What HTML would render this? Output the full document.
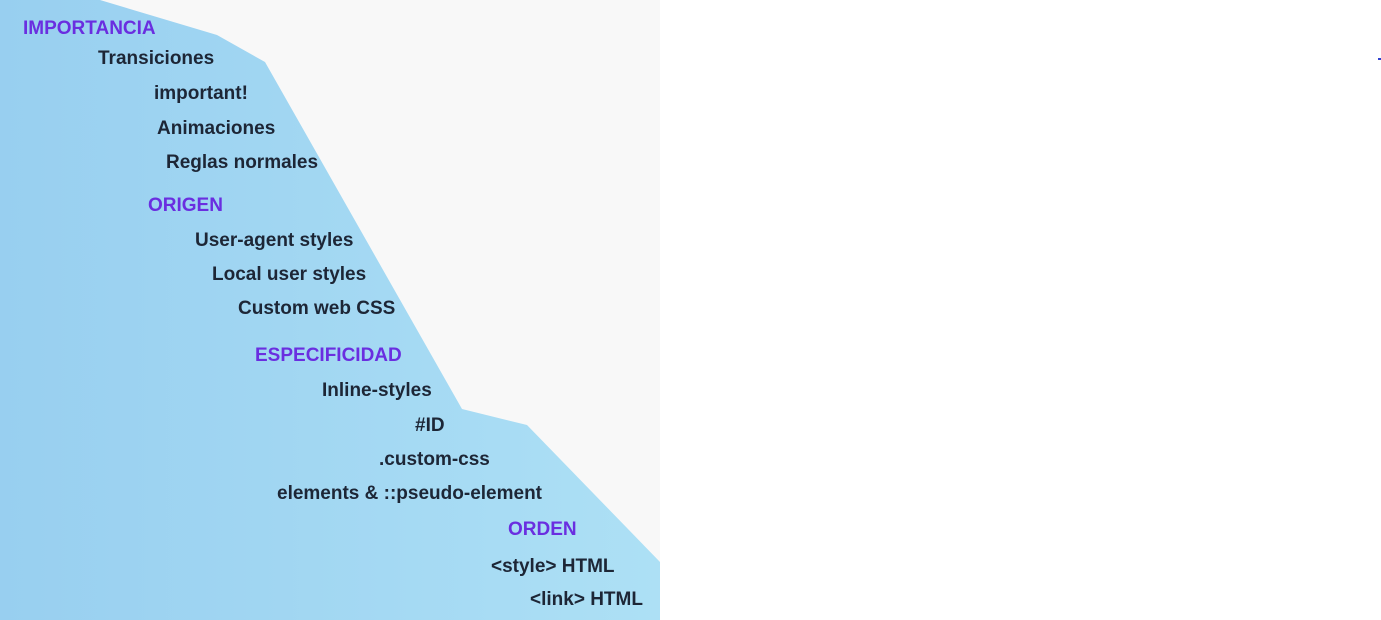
<!DOCTYPE html>
<html><head><meta charset="utf-8"><style>
body{margin:0;width:1381px;height:620px;background:#fff;position:relative;overflow:hidden;font-family:"Liberation Sans",sans-serif;}
#panel{position:absolute;left:0;top:0;width:660px;height:620px;background:#f8f8f8;}
.t{position:absolute;font-weight:bold;font-size:19px;color:#1d2636;white-space:nowrap;line-height:20px;}
.h{color:#6a2ee0;}
</style></head><body>
<div id="panel">
<svg width="660" height="620" style="position:absolute;left:0;top:0">
<defs><linearGradient id="g" x1="0" x2="1" y1="0" y2="0"><stop offset="0" stop-color="#98cff0"/><stop offset="1" stop-color="#ade0f5"/></linearGradient></defs>
<polygon points="0,0 100,0 217,35 265,62 462,409 527,425 660,562 660,620 0,620" fill="url(#g)"/>
</svg>
<div class="t h" style="left:23px;top:19px">IMPORTANCIA</div>
<div class="t" style="left:98px;top:49px">Transiciones</div>
<div class="t" style="left:154px;top:84px">important!</div>
<div class="t" style="left:157px;top:119px">Animaciones</div>
<div class="t" style="left:166px;top:153px">Reglas normales</div>
<div class="t h" style="left:148px;top:196px">ORIGEN</div>
<div class="t" style="left:195px;top:231px">User-agent styles</div>
<div class="t" style="left:212px;top:265px">Local user styles</div>
<div class="t" style="left:238px;top:299px">Custom web CSS</div>
<div class="t h" style="left:255px;top:346px">ESPECIFICIDAD</div>
<div class="t" style="left:322px;top:381px">Inline-styles</div>
<div class="t" style="left:415px;top:416px">#ID</div>
<div class="t" style="left:379px;top:450px">.custom-css</div>
<div class="t" style="left:277px;top:484px">elements &amp; ::pseudo-element</div>
<div class="t h" style="left:508px;top:520px">ORDEN</div>
<div class="t" style="left:491px;top:557px">&lt;style&gt; HTML</div>
<div class="t" style="left:530px;top:590px">&lt;link&gt; HTML</div>
</div>
<div style="position:absolute;left:1378px;top:58px;width:3px;height:2px;background:#3040d0"></div>
</body></html>
